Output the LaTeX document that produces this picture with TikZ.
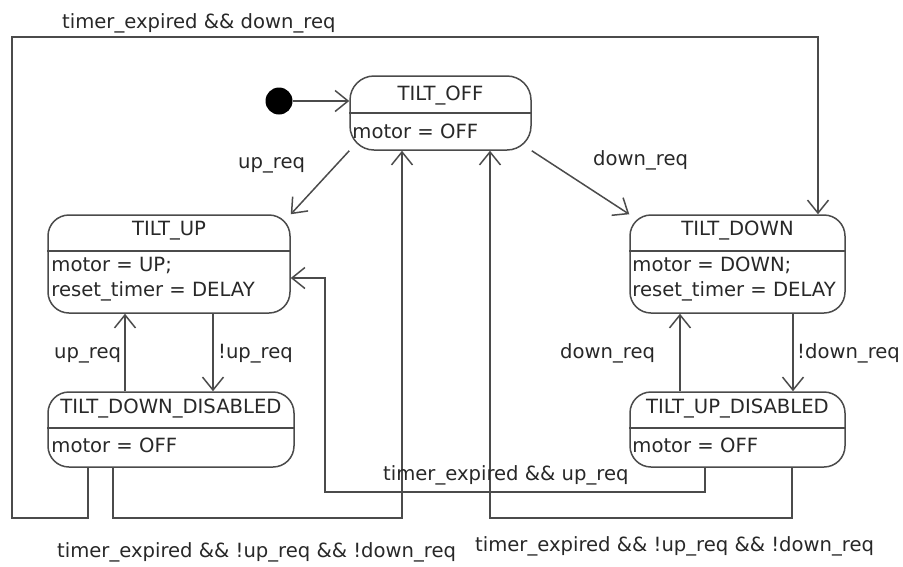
\documentclass[tikz,border=0pt]{standalone}
\usepackage{fontspec}
\setmainfont{DejaVu Sans}
\usetikzlibrary{arrows.meta}
\definecolor{linec}{RGB}{75,75,75}
\definecolor{textc}{RGB}{40,40,40}
\begin{document}
\begin{tikzpicture}[x=1pt,y=-1pt,
  line/.style={draw=linec, line width=1.5pt},
  arr/.style={line, -{Straight Barb[length=13pt,width=21pt,line width=1.5pt]}},
  state/.style={draw=linec, line width=1.5pt, rounded corners=21pt, inner sep=0pt},
  divider/.style={draw=linec, line width=1.8pt},
  lbl/.style={font=\fontsize{19.6}{25}\selectfont, text=textc, inner sep=0pt},
]
\useasboundingbox[fill=white] (0,0) rectangle (903,566);

% states
\node[state, rounded corners=24pt, minimum width=181pt, minimum height=74pt] (off) at (440.5,113) {};
\node[state, minimum width=242pt, minimum height=98pt] (up) at (169,264) {};
\node[state, minimum width=246pt, minimum height=75pt] (dd) at (171,429.5) {};
\node[state, minimum width=215pt, minimum height=98pt] (down) at (737.5,264) {};
\node[state, minimum width=215pt, minimum height=75pt] (ud) at (737.5,429.5) {};

% dividers
\draw[divider] ([yshift=-38pt]off.north west) -- ([yshift=-38pt]off.north east);
\draw[divider] ([yshift=-37pt]up.north west) -- ([yshift=-37pt]up.north east);
\draw[divider] ([yshift=-37pt]dd.north west) -- ([yshift=-37pt]dd.north east);
\draw[divider] ([yshift=-37pt]down.north west) -- ([yshift=-37pt]down.north east);
\draw[divider] ([yshift=-37pt]ud.north west) -- ([yshift=-37pt]ud.north east);

% state texts
\node[lbl] (offT) at ([yshift=-20pt]off.north) {TILT\_OFF};
\node[lbl, anchor=west] (offB) at ([xshift=3pt,yshift=-56pt]off.north west) {motor = OFF};
\node[lbl] (upT) at ([yshift=-16pt]up.north) {TILT\_UP};
\node[lbl, anchor=west, align=left] (upB) at ([xshift=4pt,yshift=-65pt]up.north west) {motor = UP;\\reset\_timer = DELAY};
\node[lbl] (ddT) at ([yshift=-17pt]dd.north) {TILT\_DOWN\_DISABLED};
\node[lbl, anchor=west] (ddB) at ([xshift=4pt,yshift=-54pt]dd.north west) {motor = OFF};
\node[lbl] (downT) at ([yshift=-16pt]down.north) {TILT\_DOWN};
\node[lbl, anchor=west, align=left] (downB) at ([xshift=3pt,yshift=-65pt]down.north west) {motor = DOWN;\\reset\_timer = DELAY};
\node[lbl] (udT) at ([yshift=-17pt]ud.north) {TILT\_UP\_DISABLED};
\node[lbl, anchor=west] (udB) at ([xshift=3pt,yshift=-54pt]ud.north west) {motor = OFF};

% initial
\node[circle, fill=black, minimum size=27pt, inner sep=0pt] (init) at (279,101) {};
\draw[arr] (init) -- (off.west |- init);

% diagonal transitions
\draw[arr] (off.south west) -- (up.north east);
\draw[arr] (off.south east) -- (down.north west);

% vertical transitions
\coordinate (v1) at (125,0);
\coordinate (v2) at (213,0);
\coordinate (v3) at (680,0);
\coordinate (v4) at (793,0);
\draw[arr] (dd.north -| v1) -- (up.south -| v1);
\draw[arr] (up.south -| v2) -- (dd.north -| v2);
\draw[arr] (ud.north -| v3) -- (down.south -| v3);
\draw[arr] (down.south -| v4) -- (ud.north -| v4);

% loop: timer_expired && down_req
\coordinate (a1) at (88,518);
\coordinate (a2) at (12,37);
\coordinate (a3) at (818,37);
\draw[arr] (dd.south -| a1) -- (a1) -| (a2) -- (a3) -- (down.north -| a3);

% loop: TILT_DOWN_DISABLED -> TILT_OFF
\coordinate (b1) at (113,518);
\coordinate (b2) at (402,518);
\draw[arr] (dd.south -| b1) -- (b1) -- (b2) -- (off.south -| b2);

% loop: timer_expired && up_req
\coordinate (c1) at (705,492);
\coordinate (c2) at (325,278);
\draw[arr] (ud.south -| c1) -- (c1) -| (c2) -- (up.east |- c2);

% loop: TILT_UP_DISABLED -> TILT_OFF
\coordinate (d1) at (792,518);
\coordinate (d2) at (490,518);
\draw[arr] (ud.south -| d1) -- (d1) -- (d2) -- (off.south -| d2);

% transition labels
\node[lbl, anchor=base west] (l1) at (62,28) {timer\_expired \&\& down\_req};
\node[lbl, anchor=base west] (l2) at (238,168) {up\_req};
\node[lbl, anchor=base west] (l3) at (593,165) {down\_req};
\node[lbl, anchor=base west] (l4) at (54,358) {up\_req};
\node[lbl, anchor=base west] (l5) at (218,358) {!up\_req};
\node[lbl, anchor=base west] (l6) at (560,358) {down\_req};
\node[lbl, anchor=base west] (l7) at (797,358) {!down\_req};
\node[lbl, anchor=base west] (l8) at (383,480) {timer\_expired \&\& up\_req};
\node[lbl, anchor=base west] (l9) at (57,557) {timer\_expired \&\& !up\_req \&\& !down\_req};
\node[lbl, anchor=base west] (l10) at (475,551) {timer\_expired \&\& !up\_req \&\& !down\_req};
\end{tikzpicture}
\end{document}
